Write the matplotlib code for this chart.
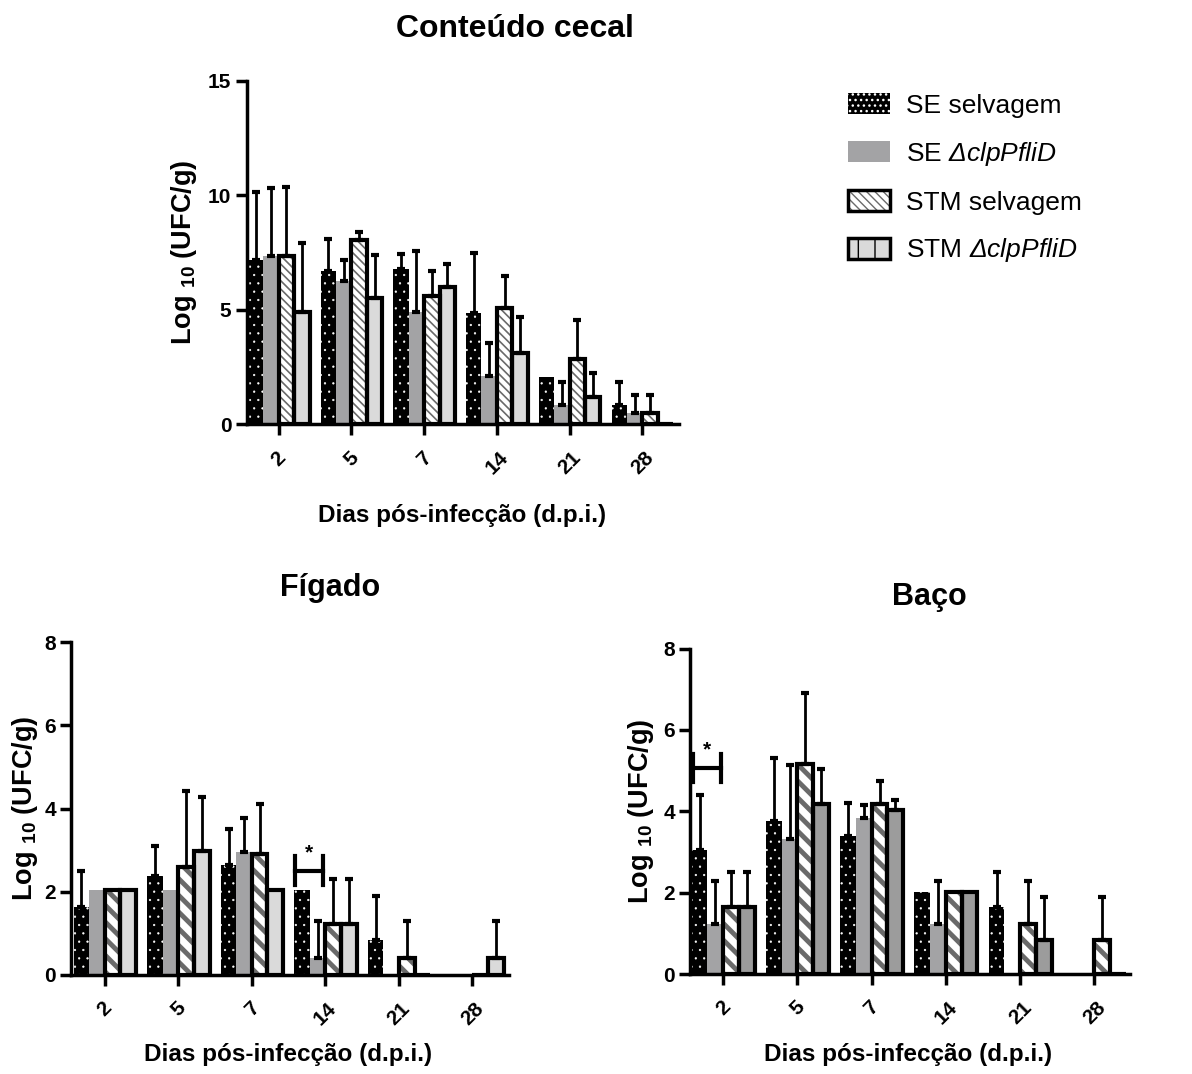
import matplotlib
matplotlib.use("Agg")
import matplotlib.pyplot as plt
import numpy as np
from matplotlib.patches import Patch
from matplotlib.legend_handler import HandlerTuple

plt.rcParams['font.family'] = ['Liberation Sans', 'DejaVu Sans']
plt.rcParams['mathtext.fontset'] = 'custom'
plt.rcParams['mathtext.rm'] = 'Liberation Sans:bold'
plt.rcParams['mathtext.it'] = 'Liberation Sans:italic'
plt.rcParams['mathtext.sf'] = 'Liberation Sans:italic'
plt.rcParams['hatch.linewidth'] = 1.0

# ---------------- data ----------------
days = ["2", "5", "7", "14", "21", "28"]
series = ["SE selvagem", "SE $\\mathsf{Δ clpPfliD}$", "STM selvagem", "STM $\\mathsf{Δ clpPfliD}$"]

cecal_se_wt = [7.16, 6.68, 6.77, 4.86, 2.04, 0.86]
cecal_se_mut = [7.34, 6.26, 4.91, 2.10, 0.86, 0.47]
cecal_stm_wt = [7.34, 8.04, 5.61, 5.08, 2.83, 0.47]
cecal_stm_mut = [4.91, 5.49, 6.00, 3.13, 1.19, 0.0]
cecal_se_wt_err = [2.99, 1.40, 0.64, 2.63, 0.0, 0.99]
cecal_se_mut_err = [2.98, 0.90, 2.65, 1.45, 0.99, 0.80]
cecal_stm_wt_err = [3.03, 0.33, 1.09, 1.39, 1.71, 0.80]
cecal_stm_mut_err = [2.98, 1.89, 0.98, 1.53, 1.05, 0.0]

liver_se_wt = [1.63, 2.38, 2.65, 2.03, 0.83, 0.0]
liver_se_mut = [2.03, 2.03, 2.95, 0.41, 0.0, 0.0]
liver_stm_wt = [2.03, 2.59, 2.90, 1.23, 0.41, 0.0]
liver_stm_mut = [2.03, 2.99, 2.03, 1.23, 0.0, 0.41]
liver_se_wt_err = [0.88, 0.72, 0.86, 0.0, 1.07, 0.0]
liver_se_mut_err = [0.0, 0.0, 0.82, 0.88, 0.0, 0.0]
liver_stm_wt_err = [0.0, 1.84, 1.21, 1.08, 0.88, 0.0]
liver_stm_mut_err = [0.0, 1.29, 0.0, 1.08, 0.0, 0.88]

spleen_se_wt = [3.05, 3.76, 3.40, 2.02, 1.64, 0.0]
spleen_se_mut = [1.23, 3.31, 3.84, 1.23, 0.0, 0.0]
spleen_stm_wt = [1.64, 5.16, 4.19, 2.02, 1.23, 0.84]
spleen_stm_mut = [1.64, 4.19, 4.03, 2.02, 0.84, 0.0]
spleen_se_wt_err = [1.36, 1.56, 0.81, 0.0, 0.86, 0.0]
spleen_se_mut_err = [1.06, 1.84, 0.31, 1.06, 0.0, 0.0]
spleen_stm_wt_err = [0.86, 1.75, 0.56, 0.0, 1.06, 1.06]
spleen_stm_mut_err = [0.86, 0.85, 0.26, 0.0, 1.06, 0.0]

# significance brackets: (group index, bar a, bar b, y level)
liver_sig = (3, 0, 1, 2.5)
spleen_sig = (0, 0, 1, 5.07)

# ---------------- figure ----------------
fig = plt.figure(figsize=(11.92, 10.74), dpi=100)

BAR_W = 0.212
OFFS = (np.arange(4) - 1.5) * BAR_W
GRAY = '#a3a3a5'


def draw_panel(ax, vals, errs, ymax, yticks, mut_fill, hatch_wt, hatch_lw, xlim):
    x = np.arange(len(days))
    for i in range(4):
        xi = x + OFFS[i]
        v = vals[i]
        if i == 0:
            with plt.rc_context({'hatch.linewidth': 0.4}):
                ax.bar(xi, v, BAR_W, color='black', edgecolor='white', hatch='..', linewidth=0, zorder=2)
        elif i == 1:
            ax.bar(xi, v, BAR_W, color=GRAY, linewidth=0, zorder=2)
        elif i == 2:
            with plt.rc_context({'hatch.linewidth': hatch_lw}):
                ax.bar(xi, v, BAR_W, color='white', edgecolor='#6a6a6a', hatch=hatch_wt, linewidth=0, zorder=2)
            ax.bar(xi, v, BAR_W, color='none', edgecolor='black', linewidth=3, zorder=3)
        else:
            ax.bar(xi, v, BAR_W, color=mut_fill, linewidth=0, zorder=2)
            ax.bar(xi, v, BAR_W, color='none', edgecolor='black', linewidth=3, zorder=3)
        e = np.array(errs[i])
        m = e > 0
        ax.errorbar(xi[m], np.array(v)[m], yerr=[np.zeros(m.sum()), e[m]], fmt='none',
                    ecolor='black', elinewidth=2, capsize=3, capthick=3, zorder=4)
    ax.set_ylim(0, ymax)
    ax.set_xlim(*xlim)
    ax.set_yticks(yticks)
    ax.set_xticks(x)
    ax.set_xticklabels(days, rotation=45, ha='center', va='top')
    for s in ['top', 'right']:
        ax.spines[s].set_visible(False)
    for s in ['left', 'bottom']:
        ax.spines[s].set_linewidth(2.5)
    ax.tick_params(axis='both', width=2.5, length=8, labelsize=15, pad=3)
    ax.tick_params(axis='x', pad=9)
    for lab in ax.get_xticklabels() + ax.get_yticklabels():
        lab.set_fontweight('bold')


def draw_sig(ax, sig):
    g, a, b, y = sig
    xa = g + OFFS[a] - 0.45 * BAR_W
    xb = g + OFFS[b] + 0.35 * BAR_W
    h = 0.35
    ax.plot([xa, xb], [y, y], color='black', lw=3, zorder=5, clip_on=False)
    ax.plot([xa, xa], [y - h, y + h], color='black', lw=3, zorder=5, clip_on=False)
    ax.plot([xb, xb], [y - h, y + h], color='black', lw=3, zorder=5, clip_on=False)
    ax.text((xa + xb) / 2, y + 0.2, '*', ha='center', va='bottom', fontsize=15, fontweight='bold')


ylab = 'Log $\\mathregular{_{10}}$ (UFC/g)'
XLAB = 'Dias pós-infecção (d.p.i.)'

# top panel
ax1 = fig.add_axes([0.207, 0.605, 0.363, 0.320])
draw_panel(ax1,
           [cecal_se_wt, cecal_se_mut, cecal_stm_wt, cecal_stm_mut],
           [cecal_se_wt_err, cecal_se_mut_err, cecal_stm_wt_err, cecal_stm_mut_err],
           15, [0, 5, 10, 15], '#dadada', '\\\\\\\\', 1.2, (-0.44, 5.51))
ax1.set_ylabel(ylab, fontsize=19.5, fontweight='bold')
ax1.yaxis.set_label_coords(-0.11, 0.5)
fig.text(0.432, 0.973, 'Conteúdo cecal', ha='center', va='center', fontsize=23, fontweight='bold')
fig.text(0.388, 0.520, XLAB, ha='center', va='center', fontsize=17.5, fontweight='bold')

# bottom-left
ax2 = fig.add_axes([0.0596, 0.0922, 0.367, 0.310])
draw_panel(ax2,
           [liver_se_wt, liver_se_mut, liver_stm_wt, liver_stm_mut],
           [liver_se_wt_err, liver_se_mut_err, liver_stm_wt_err, liver_stm_mut_err],
           8, [0, 2, 4, 6, 8], '#dadada', '\\\\', 3.5, (-0.46, 5.49))
ax2.set_ylabel(ylab, fontsize=19.5, fontweight='bold')
ax2.yaxis.set_label_coords(-0.07, 0.5)
draw_sig(ax2, liver_sig)
fig.text(0.277, 0.4525, 'Fígado', ha='center', va='center', fontsize=22, fontweight='bold')
fig.text(0.2416, 0.018, XLAB, ha='center', va='center', fontsize=17.5, fontweight='bold')

# bottom-right
ax3 = fig.add_axes([0.579, 0.0931, 0.369, 0.303])
draw_panel(ax3,
           [spleen_se_wt, spleen_se_mut, spleen_stm_wt, spleen_stm_mut],
           [spleen_se_wt_err, spleen_se_mut_err, spleen_stm_wt_err, spleen_stm_mut_err],
           8, [0, 2, 4, 6, 8], '#9c9c9c', '\\\\', 3.5, (-0.445, 5.48))
ax3.set_ylabel(ylab, fontsize=19.5, fontweight='bold')
ax3.yaxis.set_label_coords(-0.078, 0.5)
draw_sig(ax3, spleen_sig)
fig.text(0.780, 0.444, 'Baço', ha='center', va='center', fontsize=22, fontweight='bold')
fig.text(0.7617, 0.018, XLAB, ha='center', va='center', fontsize=17.5, fontweight='bold')

# legend
border = dict(facecolor='none', edgecolor='black', linewidth=2.5)
with plt.rc_context({'hatch.linewidth': 0.6}):
    h_dots = Patch(facecolor='black', edgecolor='white', hatch='...', linewidth=0)
with plt.rc_context({'hatch.linewidth': 1.5}):
    h_stripes = Patch(facecolor='white', edgecolor='#6a6a6a', hatch='\\\\\\\\', linewidth=0)
with plt.rc_context({'hatch.linewidth': 2.0}):
    h_vert = Patch(facecolor='#dadada', edgecolor='black', hatch='|', linewidth=0)
handles = [
    h_dots,
    Patch(facecolor=GRAY, linewidth=0),
    (h_stripes, Patch(**border)),
    (h_vert, Patch(**border)),
]
fig.legend(handles, series, loc='upper left', bbox_to_anchor=(0.7114, 0.913),
           frameon=False, fontsize=19, handlelength=1.6, handleheight=0.85,
           labelspacing=0.83, handletextpad=0.6, borderaxespad=0, borderpad=0,
           handler_map={tuple: HandlerTuple(ndivide=1, pad=0)})

fig.savefig('out.png', dpi=100)
